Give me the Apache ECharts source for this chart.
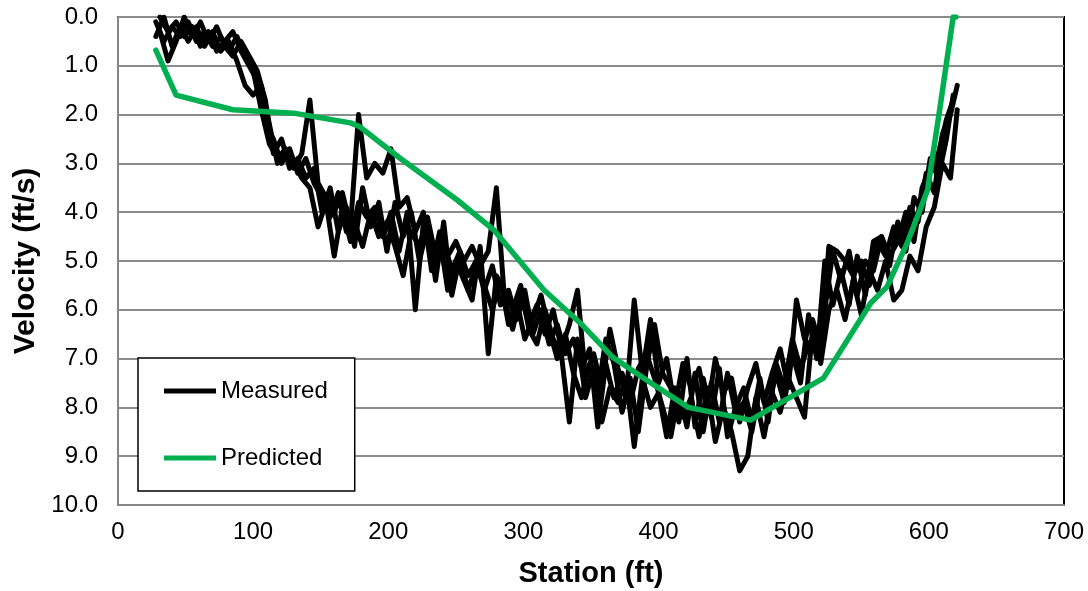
<!DOCTYPE html>
<html>
<head>
<meta charset="utf-8">
<script src="https://cdn.jsdelivr.net/npm/echarts@6/dist/echarts.min.js"></script>
<style>
html,body{margin:0;padding:0;background:#fff;}
#chart{width:1088px;height:591px;}
</style>
</head>
<body>
<div id="chart"></div>
<script>
// ---- data ----
const stations1 = [
28,34,40,46,52,58,64,70,76,82,
88,94,100,106,112,118,124,130,136,142,
148,154,160,166,172,178,184,190,196,202,
208,214,220,226,232,238,244,250,256,262,
268,274,280,286,292,298,304,310,316,322,
328,334,340,346,352,358,364,370,376,382,
388,394,400,406,412,418,424,430,436,442,
448,454,460,466,472,478,484,490,496,502,
508,514,520,526,532,538,544,550,556,562,
568,574,580,586,592,598,604,610,616,621];
const velocityA = [
0.1,0.5,0.2,0.4,0.1,0.5,0.3,0.6,0.4,0.7,
0.4,0.8,1.1,1.9,2.6,2.9,2.7,3.1,2.8,1.7,
3.4,3.7,4.0,3.6,4.3,2.0,3.3,3.0,3.2,2.7,
3.9,3.7,4.4,4.0,5.2,4.4,4.9,4.6,5.0,4.7,
5.1,4.8,3.5,5.8,6.4,5.7,6.3,5.9,6.5,6.0,
6.8,6.3,5.6,7.4,6.9,7.6,6.4,7.2,7.8,5.8,
7.3,6.2,7.5,7.0,8.0,7.1,7.6,7.2,8.1,7.0,
7.7,7.4,8.3,7.6,7.1,7.9,7.3,6.8,7.6,5.8,
6.6,6.2,6.8,4.7,4.8,5.0,5.3,5.0,5.5,4.6,
4.9,4.3,4.7,3.9,4.2,3.2,3.6,2.4,2.0,1.4];
const velocityB = [
0.4,0.0,0.6,0.2,0.5,0.2,0.6,0.3,0.7,0.5,
0.9,1.4,1.6,1.4,2.2,3.0,2.8,3.0,3.3,3.5,
4.3,3.8,4.9,3.9,4.6,3.8,4.1,3.9,4.5,4.0,
4.8,4.0,6.0,4.2,4.9,4.5,5.6,5.0,5.4,5.8,
4.7,6.9,5.3,5.6,6.0,5.5,6.4,6.7,6.0,6.6,
6.9,8.3,6.6,7.8,7.2,8.3,7.6,7.9,7.4,8.8,
7.4,8.0,7.7,8.6,7.6,8.2,7.8,8.6,7.6,8.7,
8.0,8.5,9.3,9.0,7.8,8.6,7.7,8.1,7.4,7.8,
8.2,6.4,7.1,6.0,5.6,6.2,5.4,6.1,5.2,5.6,
5.0,5.8,5.6,4.9,5.2,4.3,3.9,3.0,3.3,1.9];
const stations2 = [
31,37,43,49,55,61,67,73,79,85,
91,97,103,109,115,121,127,133,139,145,
151,157,163,169,175,181,187,193,199,205,
211,217,223,229,235,241,247,253,259,265,
271,277,283,289,295,301,307,313,319,325,
331,337,343,349,355,361,367,373,379,385,
391,397,403,409,415,421,427,433,439,445,
451,457,463,469,475,481,487,493,499,505,
511,517,523,529,535,541,547,553,559,565,
571,577,583,589,595,601,607,613,618];
const velocityC = [
0.0,0.3,0.1,0.4,0.2,0.6,0.3,0.7,0.5,0.3,
0.7,1.0,1.3,2.2,2.5,3.0,2.7,3.2,2.9,3.4,
3.7,4.1,3.6,4.4,4.2,4.7,4.0,4.5,4.2,4.7,
5.3,4.4,4.7,4.1,4.9,4.6,5.2,4.8,5.3,5.0,
5.6,5.1,5.9,5.6,6.2,5.6,6.5,6.0,6.7,6.3,
6.9,6.6,7.2,6.8,8.4,7.1,7.8,7.3,7.9,7.2,
6.9,7.4,8.0,8.6,7.7,8.4,7.3,8.5,7.5,8.3,
7.3,8.1,7.9,8.5,7.6,8.0,7.3,7.9,6.9,7.5,
6.1,7.0,5.0,5.9,5.2,5.9,4.9,5.7,4.6,4.5,
5.1,4.2,4.8,3.7,4.0,2.9,3.3,2.5,1.6];
const velocityD = [
0.3,0.9,0.5,0.0,0.4,0.1,0.5,0.2,0.6,0.8,
0.5,0.8,1.1,1.7,2.8,2.5,3.1,2.9,3.3,3.1,
4.0,3.5,4.4,3.9,4.7,3.5,4.3,3.8,4.8,3.8,
4.5,4.0,5.0,4.3,5.4,4.2,5.7,4.9,5.6,5.1,
5.5,6.0,5.4,6.3,5.8,6.6,6.2,5.7,6.4,7.0,
6.5,7.3,7.8,7.1,7.7,6.6,7.1,8.1,7.4,8.5,
7.2,6.3,7.3,7.6,8.3,7.0,8.4,7.4,8.2,7.2,
8.6,8.0,7.6,8.3,7.4,8.3,7.1,7.6,6.6,7.2,
6.7,6.5,6.0,4.8,5.4,4.8,5.7,5.0,5.2,4.5,
4.9,4.6,4.0,4.6,3.5,3.1,2.8,2.1,1.7];
const predStations = [28, 43, 85, 130, 172, 179, 209, 251, 278, 315, 342, 366, 391, 422, 468, 522, 557, 569, 584, 599, 608, 618, 620];
const predVelocity = [0.68, 1.6, 1.9, 1.97, 2.17, 2.25, 2.9, 3.75, 4.36, 5.59, 6.27, 6.97, 7.44, 8.0, 8.26, 7.4, 5.86, 5.53, 4.63, 3.55, 1.9, 0.0, 0.0];
const seriesNames = ['Measured', 'Predicted'];
const xTitle = 'Station (ft)';
const yTitle = 'Velocity (ft/s)';

// ---- chart ----
const FONT = '"Liberation Sans", Arial, sans-serif';
const pair = (xs, ys) => xs.map((x, i) => [x, ys[i]]);
const measuredSets = [
  pair(stations1, velocityA),
  pair(stations1, velocityB),
  pair(stations2, velocityC),
  pair(stations2, velocityD)
];
const measuredSeries = measuredSets.map(d => ({
  name: seriesNames[0], type: 'line', data: d, symbol: 'none',
  lineStyle: {color: '#000', width: 5, join: 'round', cap: 'round'},
  itemStyle: {color: '#000'}, z: 2
}));
const chart = echarts.init(document.getElementById('chart'), null, {renderer: 'canvas'});
chart.setOption({
  animation: false,
  backgroundColor: '#fff',
  grid: {left: 118, right: 24, top: 17, bottom: 86, outerBoundsMode: 'none', containLabel: false,
         show: true, borderColor: '#000', borderWidth: 2, backgroundColor: 'transparent'},
  legend: {
    data: seriesNames, orient: 'vertical', left: 138, top: 358,
    backgroundColor: '#fff', borderColor: '#000', borderWidth: 1.5, borderRadius: 0,
    padding: [21, 27, 21, 26], itemGap: 43, itemWidth: 52, itemHeight: 5,
    icon: 'rect',
    textStyle: {fontFamily: FONT, fontSize: 24, color: '#000'}
  },
  xAxis: {
    type: 'value', min: 0, max: 700, interval: 100,
    name: xTitle, nameLocation: 'middle', nameGap: 54,
    nameTextStyle: {fontFamily: FONT, fontSize: 29, fontWeight: 'bold', color: '#000'},
    axisLine: {onZero: false, lineStyle: {color: '#868686', width: 2}},
    axisTick: {show: false},
    axisLabel: {fontFamily: FONT, fontSize: 24, color: '#000', margin: 15},
    splitLine: {show: false}
  },
  yAxis: {
    type: 'value', min: 0, max: 10, interval: 1, inverse: true,
    name: yTitle, nameLocation: 'middle', nameGap: 59, nameRotate: 90,
    nameTextStyle: {fontFamily: FONT, fontSize: 30, fontWeight: 'bold', color: '#000'},
    axisLine: {onZero: false, lineStyle: {color: '#868686', width: 2}},
    axisTick: {show: false},
    axisLabel: {fontFamily: FONT, fontSize: 24, color: '#000', margin: 20, formatter: v => v.toFixed(1)},
    splitLine: {lineStyle: {color: '#8c8c8c', width: 2}}
  },
  series: measuredSeries.concat([{
    name: seriesNames[1], type: 'line', data: pair(predStations, predVelocity), symbol: 'none',
    lineStyle: {color: '#00B050', width: 5.5, join: 'round', cap: 'round'},
    itemStyle: {color: '#00B050'}, z: 3
  }])
});
</script>
</body>
</html>
